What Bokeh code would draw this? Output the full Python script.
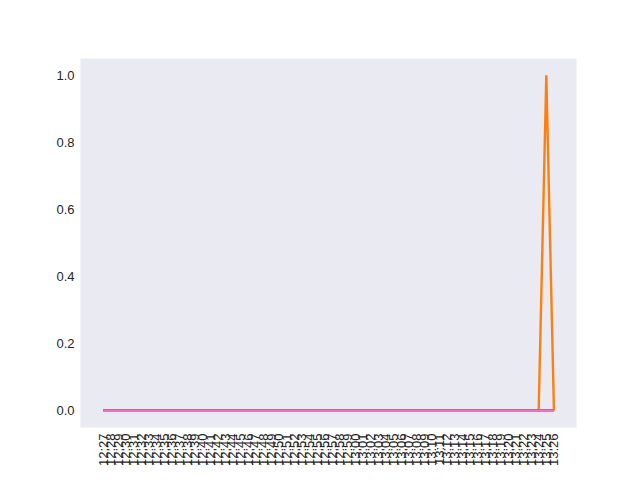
import math
from bokeh.plotting import figure
from bokeh.models import FixedTicker, Range1d
from bokeh.embed import file_html
from bokeh.resources import INLINE

# tick labels: one per minute 12:27 .. 13:26
times = ["12:%02d" % m for m in range(27, 60)] + ["13:%02d" % m for m in range(0, 27)]
n = len(times)

series_colors = ["#1f77b4", "#ff7f0e", "#2ca02c", "#d62728", "#9467bd", "#8c564b", "#e377c2"]
zeros = [0.0] * n
series_a = list(zeros)
series_b = [0.0] * 58 + [1.0, 0.0]   # orange spike at 13:25
series_c = list(zeros)
series_d = list(zeros)
series_e = list(zeros)
series_f = list(zeros)
series_g = list(zeros)
all_series = [series_a, series_b, series_c, series_d, series_e, series_f, series_g]

x = list(range(n))
y_ticks = [0.0, 0.2, 0.4, 0.6, 0.8, 1.0]

p = figure(width=640, height=480, output_backend="svg", toolbar_location=None,
           x_range=Range1d(-0.05 * (n - 1), (n - 1) * 1.05),
           y_range=Range1d(-0.05, 1.05),
           min_border_left=80, min_border_right=64, min_border_top=58, min_border_bottom=53)

p.background_fill_color = "#EAEAF2"
p.border_fill_color = "white"
p.outline_line_color = None
p.xgrid.visible = False
p.ygrid.visible = False

for s, c in zip(all_series, series_colors):
    p.line(x, s, line_color=c, line_width=2.4)

p.xaxis.ticker = FixedTicker(ticks=x)
p.xaxis.major_label_overrides = {i: t for i, t in enumerate(times)}
p.xaxis.major_label_orientation = math.pi / 2
p.yaxis.ticker = FixedTicker(ticks=y_ticks)
p.yaxis.major_label_overrides = {v: "%.1f" % v for v in y_ticks}

for ax in (p.xaxis, p.yaxis):
    ax.axis_line_color = None
    ax.major_tick_line_color = None
    ax.minor_tick_line_color = None
    ax.major_tick_out = 0
    ax.major_tick_in = 0
    ax.major_label_standoff = 6
    ax.major_label_text_font = "Liberation Sans"
    ax.major_label_text_font_size = "13px"
    ax.major_label_text_color = "#262626"

open("out.html", "w").write(file_html(p, INLINE))
